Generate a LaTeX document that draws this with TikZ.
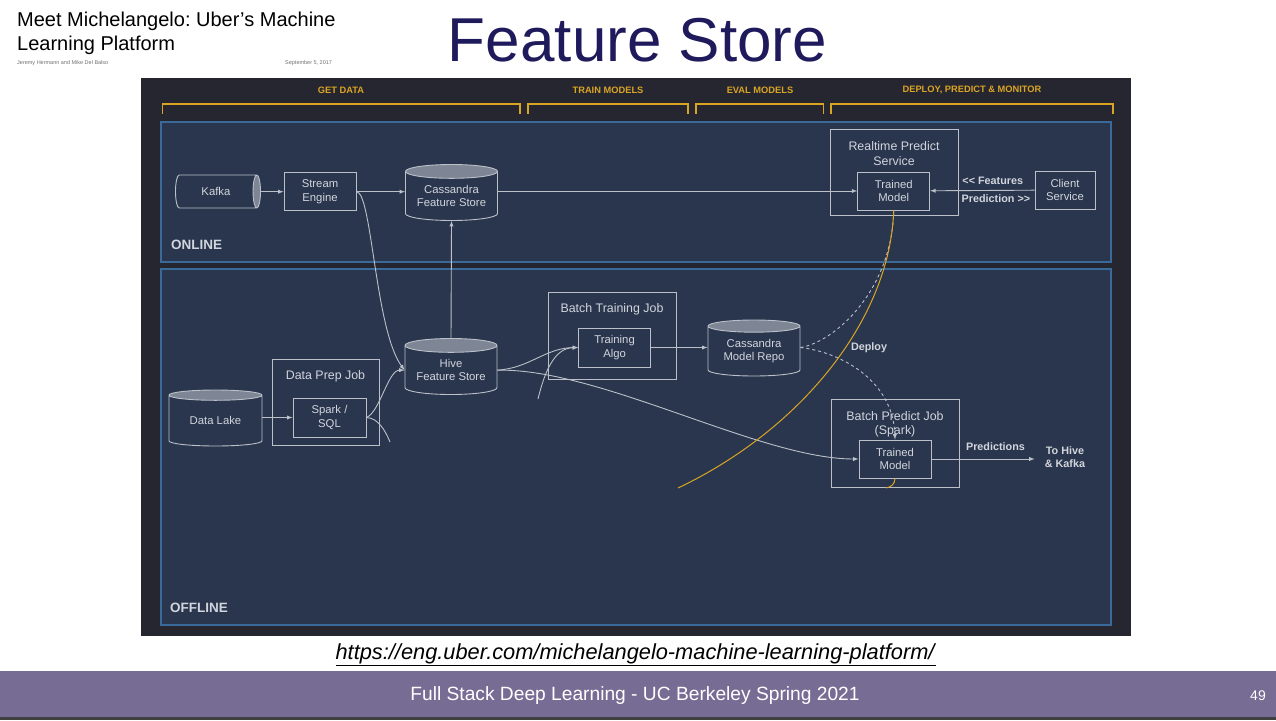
\documentclass[tikz,border=0pt]{standalone}
\usepackage{fontspec}
\setmainfont{Liberation Sans}
\usetikzlibrary{shapes.geometric}
\definecolor{panelbg}{HTML}{25262F}
\definecolor{boxbg}{HTML}{29364E}
\definecolor{boxline}{HTML}{3A6A9A}
\definecolor{wirecol}{HTML}{BBC0C9}
\definecolor{ink}{HTML}{D2D5DC}
\definecolor{lid}{HTML}{7E8695}
\definecolor{gold}{HTML}{DBA524}
\definecolor{titleblue}{HTML}{1F1A5B}
\definecolor{footer}{HTML}{776C93}
\newcommand\fsnode{\fontsize{11.3}{13.5}\selectfont}
\newcommand\fstitle{\fontsize{12.4}{14.5}\selectfont}
\newcommand\fstag{\fontsize{10.8}{13}\selectfont}
\newcommand\fsstage{\fontsize{9.3}{11}\selectfont}
\newcommand\fszone{\fontsize{13.5}{16}\selectfont}
\newcommand\fsheader{\fontsize{20}{24}\selectfont}
\newcommand\fsmini{\fontsize{5.5}{7}\selectfont}
\newcommand\fsbig{\fontsize{62}{70}\selectfont}
\newcommand\fsfoot{\fontsize{19.2}{22}\selectfont}
\newcommand\fspage{\fontsize{14}{16}\selectfont}
\newcommand\fsurl{\fontsize{21.8}{25}\selectfont}
\frenchspacing
\begin{document}
\begin{tikzpicture}[x=1pt,y=-1pt,>=latex,
  box/.style={draw=wirecol,line width=0.9pt,minimum width=72pt,minimum height=38pt,
    inner sep=0pt,align=center,text=ink,font=\fsnode},
  job/.style={draw=wirecol,line width=0.9pt,inner sep=0pt},
  jobtitle/.style={text=ink,font=\fstitle,align=center,inner sep=0pt},
  db/.style={cylinder,shape border rotate=90,draw=wirecol,line width=0.9pt,
    cylinder uses custom fill,cylinder body fill=boxbg,cylinder end fill=lid,
    minimum width=92pt,minimum height=56pt,aspect=0.2,inner sep=0pt,
    anchor=shape center,align=center,text=ink,font=\fsnode},
  zone/.style={draw=boxline,fill=boxbg,line width=1.2pt},
  link/.style={draw=wirecol,line width=0.9pt},
  goldline/.style={draw=gold,line width=1pt},
  stage/.style={text=gold,font=\bfseries\fsstage,inner sep=0pt},
  bracket/.style={draw=gold,line width=1.1pt},
  tag/.style={text=ink,font=\bfseries\fstag,inner sep=1pt,align=center}]
\fill[white] (0,0) rectangle (1276,720);
\useasboundingbox (0,0) rectangle (1276,720);
% slide header
\node[anchor=base west,inner sep=0pt,font=\fsheader] (hdrtop) at (17,26.7)
  {Meet Michelangelo: Uber's Machine};
\node[anchor=base west,inner sep=0pt,font=\fsheader] (hdrbot) at (17,50.7)
  {Learning Platform};
\node[anchor=base west,inner sep=0pt,font=\fsmini,text=black!55] (authors) at (17,64)
  {Jeremy Hermann and Mike Del Balso};
\node[anchor=base west,inner sep=0pt,font=\fsmini,text=black!55] (date) at (285,64)
  {September 5, 2017};
\node[font=\fsbig,text=titleblue,inner sep=0pt] (slidetitle) at (637.5,40) {Feature Store};
% panel and zones
\fill[panelbg] (141,78) rectangle (1131,636);
\draw[zone] (161,122) rectangle (1111,262);
\draw[zone] (161,269) rectangle (1111,625);
\node[tag,font=\bfseries\fszone,anchor=west] (online) at (170,244.5) {ONLINE};
\node[tag,font=\bfseries\fszone,anchor=west] (offline) at (169,608) {OFFLINE};
% stages
\draw[bracket] (162.5,114) -- (162.5,104) -- (520,104) -- (520,114);
\draw[bracket] (528,114) -- (528,104) -- (688,104) -- (688,114);
\draw[bracket] (696,114) -- (696,104) -- (823.5,104) -- (823.5,114);
\draw[bracket] (831,114) -- (831,104) -- (1113,104) -- (1113,114);
\node[stage] (getdata) at (341,90) {GET DATA};
\node[stage] (train) at (608,90) {TRAIN MODELS};
\node[stage] (eval) at (760,90) {EVAL MODELS};
\node[stage] (deploystage) at (972,90) {DEPLOY, PREDICT \& MONITOR};
% online
\node[db,shape border rotate=0,minimum width=33pt,minimum height=85pt,aspect=0.9]
  (kafka) at (218,191.5) {Kafka};
\node[box] (stream) at (320,191.7) {Stream\\Engine};
\node[db] (cfs) at (451.5,192.5) {Cassandra\\Feature Store};
\node[job,minimum width=128pt,minimum height=86pt] (rtps) at (894,172) {};
\node[jobtitle] (rtpstitle) at (894,153.5) {Realtime Predict\\Service};
\node[box] (rtmodel) at (893.7,191) {Trained\\Model};
\node[box,minimum width=60pt] (client) at (1065,190) {Client\\Service};
% offline
\node[db,minimum width=93pt] (datalake) at (215.5,418) {Data Lake};
\node[job,minimum width=107pt,minimum height=86.7pt] (dataprep) at (325.5,402.3) {};
\node[jobtitle] (dataprepttl) at (325.5,376) {Data Prep Job};
\node[box,minimum width=73pt,minimum height=39pt] (spark) at (329.5,417.5) {Spark /\\SQL};
\node[db] (hive) at (451,366.5) {Hive\\Feature Store};
\node[job,minimum width=128pt,minimum height=87pt] (batchtrain) at (612,335.5) {};
\node[jobtitle] (batchtrainttl) at (612,309) {Batch Training Job};
\node[box,minimum height=39pt] (algo) at (614.6,347.5) {Training\\Algo};
\node[db] (cmr) at (754,348) {Cassandra\\Model Repo};
\node[job,minimum width=128pt,minimum height=88pt] (batchpred) at (895,443) {};
\node[jobtitle] (batchpredttl) at (895,424.5) {Batch Predict Job\\(Spark)};
\node[box] (btmodel) at (895,459) {Trained\\Model};
\node[tag,inner xsep=10pt] (tohive) at (1065,457.5) {To Hive\\\& Kafka};
\coordinate (sparkout) at (390,442);
\coordinate (algoin) at (538,399);
\coordinate (yelend) at (678,488);
\coordinate (yelhook) at (886,488);
% connectors
\draw[link,->] (kafka.east |- stream) -- (stream);
\draw[link,->] (stream) -- (stream -| cfs.west);
\draw[link,->] (cfs.east |- rtmodel) -- (rtmodel);
\draw[link,->] (client) -- (rtmodel)
  node[tag,pos=0.4,above=4pt] (feat) {<\kern0pt< Features}
  node[tag,pos=0.37,below=3pt] (predret) {Prediction >\kern0pt>};
\draw[link,->] (stream.east) .. controls (372,192) and (375,330) .. (hive.west);
\draw[link,->] (datalake.east |- spark) -- (spark);
\draw[link,->] (spark.east) .. controls (380,412) and (388,370) .. (hive.west);
\draw[link] (spark.east) .. controls (378,418) and (385,430) .. (sparkout);
\draw[link,->] (hive.north) -- (cfs.south);
\draw[link,->] (hive.east) .. controls (530,368) and (545,348) .. (algo.west);
\draw[link,->] (algoin) .. controls (545,370) and (555,348) .. (algo.west);
\draw[link,->] (hive.east) .. controls (600,368) and (760,459) .. (btmodel.west);
\draw[link,->] (algo) -- (algo -| cmr.west);
\draw[link,dashed] (cmr.east |- algo) .. controls (835,342) and (892,290) .. (rtmodel.south);
\draw[link,dashed,->] (cmr.east |- algo) .. controls (840,352) and (893,380) .. (btmodel.north);
\node[tag] (deploy) at (869,348) {Deploy};
\draw[goldline] (yelend) .. controls (800,430) and (890,320) .. (rtmodel.south);
\draw[goldline] (btmodel.south) .. controls (895,484) and (891,487) .. (yelhook);
\draw[link,->] (btmodel.east) -- (btmodel.east -| tohive.west)
  node[tag,pos=0.62,above=7pt] (predout) {Predictions};
% footer
\node[font=\fsurl,inner sep=0pt] (url) at (636,655)
  {\underline{\textit{https://eng.uber.com/michelangelo-machine-learning-platform/}}};
\fill[footer] (0,671) rectangle (1276,717);
\fill[black!75] (0,717) rectangle (1276,720);
\node[text=white,font=\fsfoot] (course) at (635,696)
  {Full Stack Deep Learning - UC Berkeley Spring 2021};
\node[text=white,font=\fspage] (pageno) at (1258,696) {49};
\end{tikzpicture}
\end{document}
